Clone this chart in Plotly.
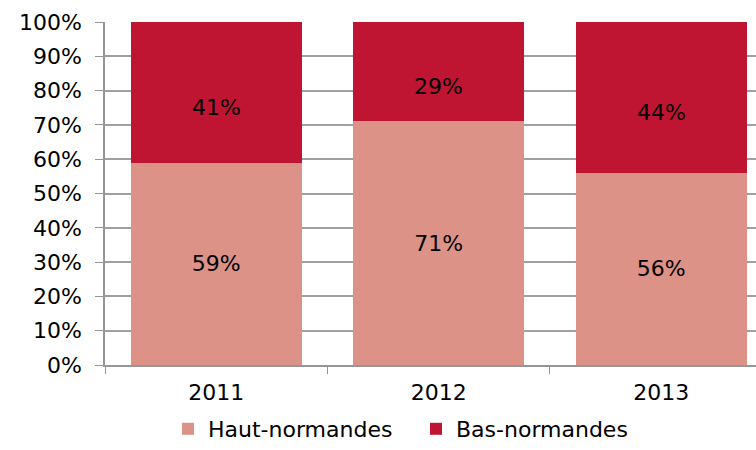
import plotly.graph_objects as go

years = ["2011", "2012", "2013"]
haut = [59, 71, 56]
bas = [41, 29, 44]
tick_vals = [0, 10, 20, 30, 40, 50, 60, 70, 80, 90, 100]
tick_text = [f"{v}%" for v in tick_vals]

font_family = "DejaVu Sans, Verdana, sans-serif"
FS = 22

fig = go.Figure()
fig.add_trace(go.Bar(
    x=years, y=haut, name="Haut-normandes",
    marker=dict(color="#DC9287", line=dict(width=0)),
    text=[f"{v}%" for v in haut], textposition="inside",
    insidetextanchor="middle", textangle=0, constraintext="none",
    textfont=dict(color="black", size=FS, family=font_family),
    width=0.77,
))
fig.add_trace(go.Bar(
    x=years, y=bas, name="Bas-normandes",
    marker=dict(color="#C01433", line=dict(width=0)),
    width=0.77,
))
# labels for the upper segment (placed slightly below segment centre, as in reference)
for i, (h, b) in enumerate(zip(haut, bas)):
    fig.add_annotation(x=i, y=h + b / 2, xref="x", yref="y", text=f"{b}%",
                       showarrow=False, yshift=-15,
                       font=dict(color="black", size=FS, family=font_family))

fig.update_layout(
    barmode="stack",
    width=756, height=450,
    margin=dict(l=105, r=0, t=22, b=85, autoexpand=False),
    paper_bgcolor="white", plot_bgcolor="white",
    font=dict(family=font_family, size=FS, color="black"),
    showlegend=True,
    legend=dict(orientation="h", x=0.0968, xanchor="left",
                yref="container", y=-0.0133, yanchor="bottom",
                font=dict(size=FS), itemwidth=30, traceorder="normal",
                entrywidth=203, entrywidthmode="pixels"),
    uniformtext=dict(mode=False),
)
fig.update_xaxes(
    type="category", range=[-0.5, 2.426],
    tickson="boundaries", ticks="outside", ticklen=7, tickcolor="#969696",
    showline=True, linecolor="#969696", linewidth=1.5,
    showgrid=False, tickfont=dict(size=FS), ticklabelstandoff=7,
)
fig.update_yaxes(
    range=[0, 100], tickvals=tick_vals, ticktext=tick_text,
    ticks="outside", ticklen=8, tickcolor="#969696",
    showline=True, linecolor="#969696", linewidth=1.5,
    showgrid=True, gridcolor="#a0a0a0", gridwidth=1.5,
    tickfont=dict(size=FS), ticklabelstandoff=9, zeroline=False,
)

fig.write_html("out.html", config={"displayModeBar": False},
               post_script="document.body.style.margin='0px';document.body.style.overflow='hidden';")
